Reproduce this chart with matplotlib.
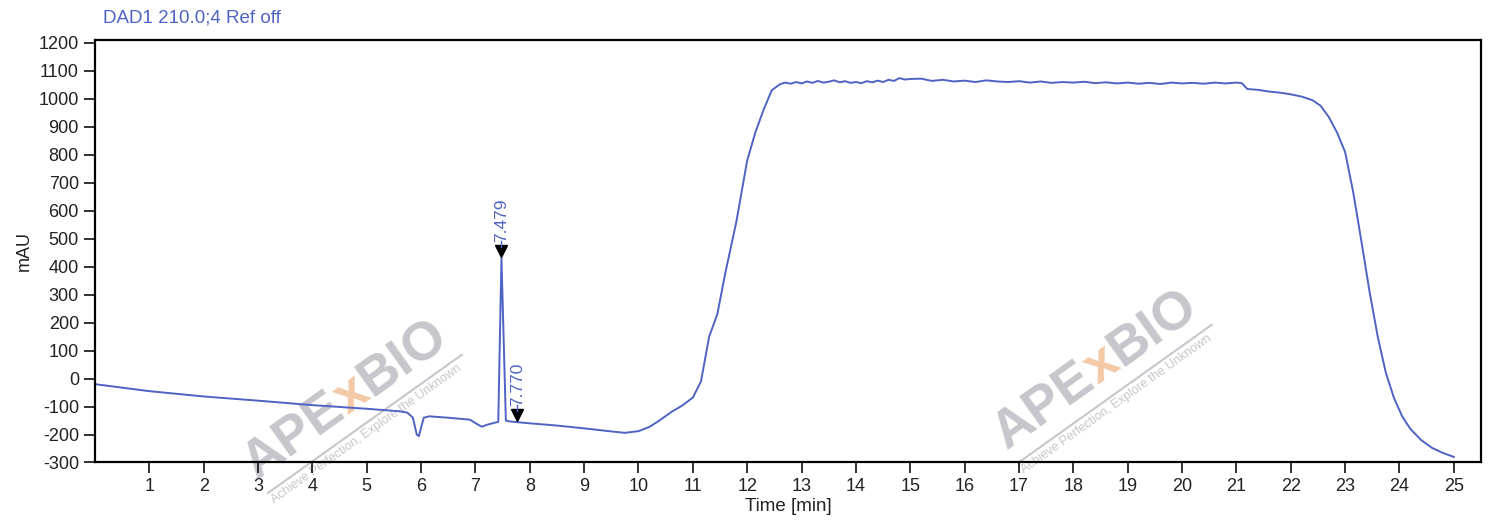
import numpy as np
import matplotlib.pyplot as plt

plt.rcParams['font.family'] = ['Liberation Sans', 'DejaVu Sans']
plt.rcParams['axes.unicode_minus'] = False

# chromatogram trace (time in min, signal in mAU)
time = [0.0, 1.0, 2.0, 3.0, 4.0, 5.0, 5.6, 5.75, 5.85, 5.92, 5.96, 6.0, 6.05, 6.15,
        6.5, 6.9, 7.05, 7.12, 7.2, 7.35, 7.42, 7.479, 7.56, 7.62, 7.77, 8.0, 8.5,
        9.0, 9.5, 9.75, 10.0, 10.2, 10.4, 10.6, 10.8, 11.0, 11.15, 11.3, 11.45,
        11.6, 11.8, 12.0, 12.15, 12.3, 12.45, 12.6,
        12.7, 12.8, 12.9, 13.0, 13.1, 13.2, 13.3, 13.4, 13.5, 13.6, 13.7, 13.8,
        13.9, 14.0, 14.1, 14.2, 14.3, 14.4, 14.5, 14.6, 14.7, 14.8, 14.9, 15.0,
        15.2, 15.4, 15.6, 15.8, 16.0, 16.2, 16.4, 16.6, 16.8, 17.0, 17.2, 17.4,
        17.6, 17.8, 18.0, 18.2, 18.4, 18.6, 18.8, 19.0, 19.2, 19.4, 19.6, 19.8,
        20.0, 20.2, 20.4, 20.6, 20.8, 21.0, 21.1, 21.2, 21.4, 21.6, 21.8, 22.0,
        22.2, 22.4, 22.55, 22.7, 22.85, 23.0, 23.15, 23.3, 23.45, 23.6, 23.75,
        23.9, 24.05, 24.2, 24.4, 24.6, 24.8, 25.0]
signal = [-20, -45, -64, -79, -95, -108, -117, -122, -140, -200, -206, -175, -140, -135,
          -140, -147, -165, -172, -166, -158, -155, 430, -150, -153, -156, -160, -168,
          -178, -189, -194, -188, -173, -148, -120, -97, -68, -10, 150, 230,
          380, 560, 780, 880, 960, 1030, 1052,
          1058, 1054, 1060, 1055, 1062, 1057, 1064, 1058, 1061, 1066, 1059, 1063,
          1057, 1060, 1056, 1063, 1059, 1065, 1060, 1068, 1064, 1074, 1069, 1071,
          1072, 1064, 1068, 1062, 1065, 1060, 1066, 1062, 1060, 1063, 1058, 1062,
          1057, 1060, 1058, 1061, 1056, 1059, 1055, 1058, 1054, 1057, 1053, 1058,
          1055, 1057, 1054, 1058, 1055, 1058, 1056, 1035, 1032, 1026, 1022, 1016,
          1008, 995, 975, 935, 880, 810, 665, 490, 310, 150, 20,
          -70, -135, -180, -220, -248, -266, -280]

# peak marks
peak_times = [7.479, 7.770]
peak_heights = [430, -156]
peak_labels = ['7.479', '7.770']

blue = '#4f63c4'
grey_wm = '#c6c6cc'
orange_wm = '#f3c9a6'

fig = plt.figure(figsize=(14.88, 5.24), dpi=100)
ax = fig.add_axes([0.0638, 0.1174, 0.9315, 0.8072])
ax.patch.set_alpha(0)

ax.plot(time, signal, color=blue, lw=1.4)

for t, h, lab in zip(peak_times, peak_heights, peak_labels):
    ax.plot(t, h + 25, marker='v', color='black', markersize=9, ls='none')
    ax.plot([t, t], [h + 40, h + 60], color=blue, lw=1)
    ax.text(t, h + 58, lab, rotation=90, ha='center', va='bottom',
            color=blue, fontsize=12.5)

ax.set_xlim(0, 25.5)
ax.set_ylim(-300, 1212)
ax.set_xticks(np.arange(1, 26))
ax.set_yticks(np.arange(-300, 1201, 100))
ax.tick_params(direction='out', length=8, width=1.3, labelsize=13, colors='#222222')
for s in ax.spines.values():
    s.set_linewidth(1.6)

ax.set_xlabel('Time [min]', fontsize=13.5, color='#222222', labelpad=2)
ax.set_ylabel('mAU', fontsize=13, color='#222222', labelpad=4)

fig.text(103 / 1488, 1 - 18 / 524, 'DAD1 210.0;4 Ref off', color=blue,
         fontsize=13.5, ha='left', va='center')

# watermarks (positions in image pixels, origin top-left)
renderer = fig.canvas.get_renderer()
ang = np.deg2rad(35.5)
ux, uy = np.cos(ang), np.sin(ang)


def px(x, y):
    return x / 1488, 1 - y / 524


def watermark(x0, y0):
    x, y = x0, y0
    for piece, col in [('APE', grey_wm), ('x', orange_wm), ('BIO', grey_wm)]:
        fig.text(*px(x, y), piece, rotation=35.5, rotation_mode='anchor',
                 fontsize=39, fontweight='bold', color=col,
                 ha='left', va='baseline', zorder=-1)
        tmp = fig.text(0, 0, piece, fontsize=39, fontweight='bold')
        w = tmp.get_window_extent(renderer).width
        tmp.remove()
        x += w * ux
        y -= w * uy
    # underline and tagline
    lx, ly = x0 + 11, y0 + 13
    x1, y1 = px(lx, ly)
    x2, y2 = px(lx + 238 * ux, ly - 238 * uy)
    fig.add_artist(plt.Line2D([x1, x2], [y1, y2], transform=fig.transFigure,
                              color=grey_wm, lw=1.5, zorder=-1))
    fig.text(*px(x0 + 17, y0 + 24), 'Achieve Perfection, Explore the Unknown',
             rotation=35.5, rotation_mode='anchor', fontsize=9, color=grey_wm,
             ha='left', va='baseline', zorder=-1)


watermark(257, 480)
watermark(1007, 450)

fig.savefig('out.png', dpi=100)
